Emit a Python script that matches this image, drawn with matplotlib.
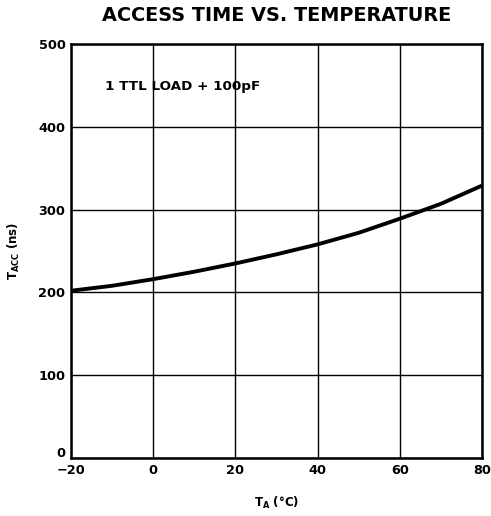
import matplotlib
matplotlib.use("Agg")
import matplotlib.pyplot as plt
from matplotlib.transforms import ScaledTranslation

plt.rcParams['font.family'] = ['DejaVu Sans']
plt.rcParams['font.weight'] = 'bold'
plt.rcParams['mathtext.fontset'] = 'custom'
plt.rcParams['mathtext.rm'] = 'DejaVu Sans:bold'
plt.rcParams['mathtext.bf'] = 'DejaVu Sans:bold'
plt.rcParams['mathtext.it'] = 'DejaVu Sans:bold'

# data
temp_c = [-20, -10, 0, 10, 20, 30, 40, 50, 60, 70, 80]
access_ns = [202, 208, 216, 225, 235, 246, 258, 272, 289, 307, 329]
x_ticks = [-20, 0, 20, 40, 60, 80]
y_ticks = [0, 100, 200, 300, 400, 500]

fig = plt.figure(figsize=(4.91, 5.16), dpi=100)
ax = fig.add_axes([0.1446, 0.1124, 0.8371, 0.8023])

ax.set_xlim(-20, 80)
ax.set_ylim(0, 500)
ax.set_xticks(x_ticks)
ax.set_yticks(y_ticks)
ax.grid(True, color='black', linewidth=1.0)
ax.tick_params(length=0, labelsize=9.3)
ax.tick_params(axis='x', pad=4)
ax.tick_params(axis='y', pad=4)
for lab in ax.get_xticklabels() + ax.get_yticklabels():
    lab.set_fontweight('heavy')
# lift the "0" y label a little so it clears the "-20" x label
ylabs = ax.get_yticklabels()
ylabs[0].set_transform(ylabs[0].get_transform() + ScaledTranslation(0, 4/72, fig.dpi_scale_trans))
for s in ax.spines.values():
    s.set_linewidth(1.8)

ax.plot(temp_c, access_ns, color='black', linewidth=2.8, solid_capstyle='butt')

ax.text(-11.8, 449, '1 TTL LOAD + 100pF', fontsize=9.7, fontweight='bold', va='center', ha='left')

fig.text(0.5625, 0.969, 'ACCESS TIME VS. TEMPERATURE', fontsize=13.9, fontweight='bold', ha='center', va='center')
ax.set_xlabel(r'$\mathrm{T_A}$ (°C)', fontsize=8.5, fontweight='bold', labelpad=13)
ax.set_ylabel(r'$\mathrm{T_{ACC}}$ (ns)', fontsize=8.5, fontweight='bold', labelpad=12)

fig.savefig('out.png', dpi=100)
